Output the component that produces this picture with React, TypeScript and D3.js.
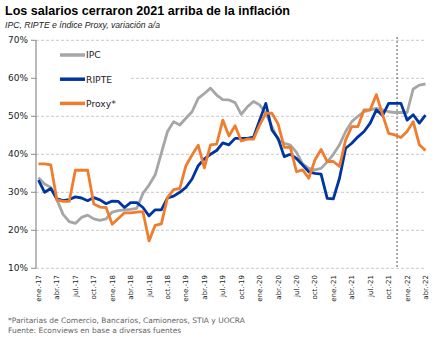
import React from "react";
import * as d3 from "d3";

const MONTH_ABBR = ["ene.", "feb.", "mar.", "abr.", "may.", "jun.", "jul.", "ago.", "sep.", "oct.", "nov.", "dic."];
const YEARS = ["17", "18", "19", "20", "21", "22"];
const months: string[] = YEARS.flatMap((yy) => MONTH_ABBR.map((m) => `${m}-${yy}`)).slice(0, 64);

const ipc = [
  33.8, 32.2, 31.3, 28.0, 24.2, 22.3, 21.8, 23.4, 24.0, 23.0,
  22.6, 23.0, 24.8, 25.2, 25.4, 25.5, 25.8, 29.7, 31.9, 34.6,
  40.3, 46.0, 48.6, 47.7, 49.5, 51.2, 54.7, 56.0, 57.4, 55.6,
  54.4, 54.3, 53.6, 50.5, 52.5, 53.9, 53.0, 50.8, 47.3, 43.8,
  42.9, 42.4, 40.5, 37.5, 36.3, 35.9, 36.3, 38.0, 40.0, 42.5,
  46.0, 48.6, 50.0, 51.2, 51.7, 52.1, 51.7, 51.2, 51.0, 51.0,
  51.0, 57.2, 58.2, 58.5,
];

const ripte = [
  33.2, 30.0, 31.0, 28.3, 27.8, 28.1, 28.8, 28.5, 27.8, 28.6,
  28.0, 27.0, 27.7, 27.6, 26.0, 27.3, 27.3, 26.0, 23.8, 25.4,
  25.4, 28.5, 29.0, 30.0, 31.3, 33.5, 37.0, 38.8, 40.0, 41.0,
  43.0, 42.5, 44.2, 44.2, 44.2, 44.5, 49.0, 53.4, 46.4, 44.2,
  39.4, 40.0, 38.9, 37.2, 35.4, 35.0, 34.8, 28.4, 28.3, 33.7,
  41.6, 42.9, 44.6, 46.0, 48.2, 51.7, 50.2, 53.4, 53.4, 53.4,
  49.0, 50.4, 48.2, 50.3,
];

const proxy = [
  37.5, 37.5, 37.2, 28.0, 27.6, 27.6, 35.8, 35.8, 35.8, 26.9,
  26.1, 26.0, 21.6, 23.1, 24.6, 24.6, 24.8, 24.9, 17.2, 21.3,
  21.7, 28.6, 30.7, 31.0, 37.0, 39.8, 42.4, 36.4, 42.5, 42.7,
  49.0, 44.8, 47.5, 43.5, 44.0, 44.0, 47.7, 50.8, 50.8, 48.0,
  41.8, 41.8, 35.4, 35.9, 33.7, 38.5, 41.3, 38.1, 38.1, 36.8,
  43.8, 47.3, 47.3, 51.7, 51.7, 55.7, 50.5, 45.5, 45.1, 44.4,
  46.0, 48.6, 42.5, 41.0,
];

const seriesNames = ["IPC", "RIPTE", "Proxy*"];
const seriesValues = [ipc, ripte, proxy];
const seriesColors = ["#A6A6A6", "#0035A0", "#F07D2E"];

const yTicks = [10, 20, 30, 40, 50, 60, 70];
const xTickLabels = months.filter((_, i) => i % 3 === 0);
const markerBetween = ["nov.-21", "dic.-21"];

const title = "Los salarios cerraron 2021 arriba de la inflación";
const subtitle = "IPC, RIPTE e índice Proxy, variación a/a";
const footnotes = [
  "*Paritarias de Comercio, Bancarios, Camioneros, STIA y UOCRA",
  "Fuente: Econviews en base a diversas fuentes",
];

export default function App() {
  const W = 443;
  const H = 340;
  const plotLeft = 36;
  const plotRight = 424;
  const x = d3.scalePoint<string>().domain(months).range([38.5, 425.5]);
  const y = d3.scaleLinear().domain([10, 70]).range([268.3, 40.3]);
  const line = d3
    .line<number>()
    .x((_, i) => x(months[i]) as number)
    .y((d) => y(d));

  const markerX = ((x(markerBetween[0]) as number) + (x(markerBetween[1]) as number)) / 2 - 0.8;
  const axisFont = "'DejaVu Sans', Verdana, sans-serif";

  return (
    <svg
      width={W}
      height={H}
      viewBox={`0 0 ${W} ${H}`}
      style={{ position: "absolute", left: 0, top: 0, background: "#fff" }}
    >
      <rect x={0} y={0} width={W} height={H} fill="#fff" />
      <text
        x={5}
        y={15}
        fontFamily="'Liberation Sans', Arial, sans-serif"
        fontWeight="bold"
        fontSize={13.5}
        fill="#000"
        textLength={285}
        lengthAdjust="spacingAndGlyphs"
      >
        {title}
      </text>
      <text
        x={5}
        y={28}
        fontFamily="'Liberation Sans', Arial, sans-serif"
        fontStyle="italic"
        fontSize={9}
        fill="#222"
        textLength={155}
        lengthAdjust="spacingAndGlyphs"
      >
        {subtitle}
      </text>

      {/* gridlines */}
      {yTicks.map((t) => (
        <line
          key={`g${t}`}
          x1={plotLeft}
          x2={plotRight}
          y1={y(t)}
          y2={y(t)}
          stroke="#C8C8C8"
          strokeWidth={1}
          strokeDasharray="3,2"
        />
      ))}

      {/* legend box */}
      <rect x={37} y={44} width={93} height={68} fill="#fff" />

      {/* y axis */}
      <line x1={plotLeft} x2={plotLeft} y1={y(70)} y2={y(10)} stroke="#8C8C8C" strokeWidth={1.2} />
      {yTicks.map((t) => (
        <g key={`t${t}`}>
          <line x1={plotLeft - 5} x2={plotLeft} y1={y(t)} y2={y(t)} stroke="#8C8C8C" strokeWidth={1} />
          <text
            x={plotLeft - 8}
            y={y(t)}
            dy="0.35em"
            textAnchor="end"
            fontFamily={axisFont}
            fontSize={9}
            fill="#222"
          >
            {`${t}%`}
          </text>
        </g>
      ))}

      {/* x labels */}
      {xTickLabels.map((m) => (
        <text
          key={m}
          transform={`translate(${x(m)},275) rotate(-90)`}
          textAnchor="end"
          dy="0.35em"
          fontFamily={axisFont}
          fontSize={7}
          fill="#222"
        >
          {m}
        </text>
      ))}

      {/* marker line */}
      <line
        x1={markerX}
        x2={markerX}
        y1={37}
        y2={y(10)}
        stroke="#555"
        strokeWidth={1}
        strokeDasharray="2,2"
      />

      {/* series */}
      {seriesValues.map((vals, si) => (
        <path
          key={seriesNames[si]}
          d={line(vals) || ""}
          fill="none"
          stroke={seriesColors[si]}
          strokeWidth={2.8}
          strokeLinejoin="round"
        />
      ))}

      {/* legend */}
      {seriesNames.map((name, si) => {
        const ly = 55 + si * 24.2;
        return (
          <g key={`l${name}`}>
            <line x1={60} x2={85} y1={ly} y2={ly} stroke={seriesColors[si]} strokeWidth={3.5} />
            <text x={86} y={ly} dy="0.36em" fontFamily={axisFont} fontSize={9.2} fill="#222">
              {name}
            </text>
          </g>
        );
      })}

      {/* footnotes */}
      {footnotes.map((f, i) => (
        <text
          key={`f${i}`}
          x={8}
          y={322.5 + i * 10.5}
          fontFamily={axisFont}
          fontSize={7.5}
          fill="#666"
        >
          {f}
        </text>
      ))}
    </svg>
  );
}
